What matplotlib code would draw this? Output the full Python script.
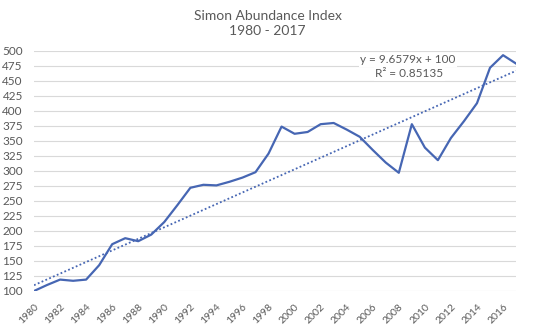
import matplotlib as mpl
import matplotlib.pyplot as plt
import numpy as np

mpl.rcParams['font.family'] = "Lato"
mpl.rcParams['figure.facecolor'] = "white"
mpl.rcParams['axes.facecolor'] = "white"

years = list(range(1980, 2018))
index = [100, 110, 119, 117, 119, 143, 178, 188, 183, 194,
         215, 243, 272, 277, 276, 282, 289, 298, 329, 374,
         362, 365, 378, 380, 369, 357, 335, 314, 297, 378,
         339, 318, 355, 383, 413, 472, 493, 479]
slope = 9.6579
intercept = 100
r_squared = 0.85135
tick_years = years[::2]

LINE = "#4666B3"
TEXT = "#595959"


def plot():
    fig = plt.figure(figsize=(5.35, 3.3), dpi=100)
    ax = fig.add_axes([0.0636, 0.1182, 0.901, 0.7273])

    x = np.array(years)
    trend = slope * (x - years[0] + 1) + intercept
    ax.plot(x, index, color=LINE, lw=1.6, zorder=3)
    ax.plot(x, trend, color=LINE, lw=1.3, ls=(0, (1, 1.3)), zorder=2)

    ax.set_xlim(years[0], years[-1])
    ax.set_ylim(100, 500)
    ax.set_yticks(range(100, 501, 25))
    ax.set_xticks(tick_years)
    ax.set_xticklabels([str(y) for y in tick_years], rotation=45,
                       ha='right', rotation_mode='anchor')
    ax.tick_params(axis='both', length=0, colors=TEXT)
    ax.tick_params(axis='x', pad=8, labelsize=7.5)
    ax.tick_params(axis='y', pad=8, labelsize=8.5)
    ax.grid(axis='y', color='#d9d9d9', lw=0.8)
    ax.set_axisbelow(True)
    for s in ax.spines.values():
        s.set_visible(False)

    ax.text(2008.7, 485, f"y = {slope}x + {intercept}", ha='center',
            va='center', fontsize=8.5, color=TEXT, zorder=4,
            bbox=dict(facecolor='white', edgecolor='none', pad=1))
    ax.text(2008.8, 462, f"R\u00b2 = {r_squared}", ha='center', va='center',
            fontsize=8.5, color=TEXT, zorder=4,
            bbox=dict(facecolor='white', edgecolor='none', pad=1))

    fig.text(0.5, 0.952, "Simon Abundance Index", ha='center', va='center',
             fontsize=10, color=TEXT)
    fig.text(0.5, 0.907, "1980 - 2017", ha='center', va='center',
             fontsize=10, color=TEXT)

    plt.savefig('out.png', dpi=100)


if __name__ == '__main__':
    plot()
